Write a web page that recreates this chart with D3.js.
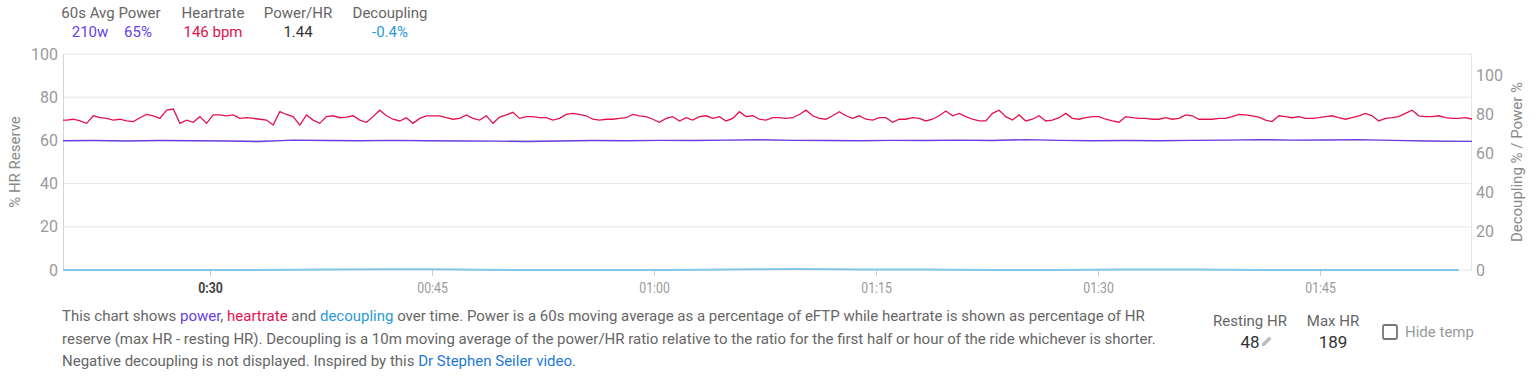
<!DOCTYPE html>
<html>
<head>
<meta charset="utf-8">
<script src="https://cdn.jsdelivr.net/npm/d3@7"></script>
<style>
  body { margin: 0; background: #fff; font-family: Roboto, "Noto Sans", sans-serif; }
  svg text { font-family: Roboto, "Noto Sans", sans-serif; }
</style>
</head>
<body>
<svg id="chart" width="1536" height="382"></svg>
<script>
// Summary numbers shown in the header
var headerLabels = ["60s Avg Power", "Heartrate", "Power/HR", "Decoupling"];
var avgPowerWatts = "210w", avgPowerPct = "65%";
var avgHeartrate = "146 bpm", powerPerHr = "1.44", decouplingPct = "-0.4%";
var restingHr = 48, maxHr = 189;

// Time axis (seconds into ride)
var xStart = 1204, xEnd = 6916;
var tickSeconds = [1800, 2700, 3600, 4500, 5400, 6300];
var tickLabels = ["0:30", "00:45", "01:00", "01:15", "01:30", "01:45"];

// Heartrate as % of HR reserve, one sample every 27 s from 1192 s
var hrStart = 1192, hrStep = 27;
var hrValues = [
  69.4, 69.4, 69.8, 69.0, 67.9, 71.4, 70.5, 70.2, 69.4, 69.8,
  69.0, 68.7, 70.5, 72.0, 71.4, 70.2, 74.0, 74.5, 67.9, 69.4,
  68.4, 71.0, 67.9, 71.8, 71.8, 71.4, 71.8, 70.2, 70.5, 70.2,
  69.8, 69.4, 67.1, 73.3, 72.0, 71.0, 67.1, 71.8, 69.4, 67.9,
  71.0, 71.4, 70.5, 70.8, 71.4, 69.4, 68.4, 71.0, 74.0, 71.4,
  69.8, 69.0, 70.5, 67.9, 70.2, 71.4, 71.4, 71.4, 70.5, 69.8,
  70.2, 71.8, 70.2, 69.4, 71.4, 67.9, 70.8, 71.8, 73.0, 70.2,
  71.0, 71.0, 70.5, 70.5, 69.4, 70.2, 72.0, 72.5, 72.0, 71.4,
  69.8, 69.4, 69.8, 69.8, 70.2, 70.5, 72.0, 71.4, 71.0, 69.8,
  68.4, 70.2, 71.0, 69.0, 70.5, 69.4, 71.0, 71.4, 70.2, 71.0,
  69.0, 70.2, 73.3, 71.0, 71.4, 69.8, 69.4, 70.5, 70.5, 70.2,
  70.5, 72.0, 74.0, 71.4, 70.2, 69.8, 71.4, 73.3, 71.4, 70.2,
  71.4, 69.8, 69.4, 70.5, 70.5, 68.4, 69.8, 69.8, 70.5, 70.2,
  69.0, 69.8, 71.4, 73.6, 71.4, 72.5, 71.0, 69.8, 69.0, 69.0,
  72.5, 74.0, 71.0, 69.4, 71.8, 69.0, 69.8, 71.4, 69.0, 69.4,
  70.5, 72.5, 70.2, 69.8, 70.5, 71.0, 71.0, 69.8, 69.0, 68.4,
  71.0, 70.5, 70.2, 70.2, 69.8, 69.8, 70.5, 69.8, 70.2, 71.8,
  71.4, 69.8, 69.8, 69.8, 70.2, 70.2, 71.0, 72.0, 71.8, 71.4,
  70.8, 69.4, 68.7, 71.4, 71.0, 70.5, 71.0, 70.2, 70.2, 70.5,
  71.0, 71.4, 70.5, 69.8, 70.5, 71.4, 72.5, 71.4, 69.0, 70.2,
  70.5, 71.0, 72.5, 74.0, 71.4, 71.0, 71.0, 71.4, 70.5, 70.2,
  70.2, 70.5, 69.9
];

// Power as % of eFTP (60s average), one sample every 135 s
var pwrStart = 1192, pwrStep = 135;
var powerValues = [
  66.3, 66.4, 66.2, 66.4, 66.3, 66.2, 65.9, 66.6, 66.4, 66.3,
  66.5, 66.3, 66.2, 66.1, 65.9, 66.2, 66.4, 66.3, 66.5, 66.4,
  66.6, 66.8, 66.5, 66.4, 66.3, 66.5, 66.4, 66.6, 66.4, 66.9,
  66.5, 66.3, 66.4, 66.3, 66.5, 66.6, 66.9, 66.6, 66.7, 66.9,
  66.5, 66.2, 66.0, 65.9
];

// Decoupling % (negative values clamped to 0), one sample every 270 s
var decStart = 1192, decStep = 270;
var decouplingValues = [
  0, 0, 0, 0, 0.3, 0.4, 0.2, 0, 0, 0,
  0.3, 0.5, 0.3, 0.2, 0, 0, 0.2, 0.3, 0, 0,
  0, 0
];

var colPower = "#6a3de0", colHr = "#e3124e", colDecText = "#2b9ad6", colDecLine = "#82c6e8";

var margin = { top: 54, right: 64, bottom: 112, left: 63 },
    width = 1536 - margin.left - margin.right,
    height = 382 - margin.top - margin.bottom;

var svg = d3.select("#chart");

var x = d3.scaleLinear().domain([xStart, xEnd]).range([0, width]);
var yLeft = d3.scaleLinear().domain([0, 100]).range([height, 0]);
var yRight = d3.scaleLinear().domain([0, 110.8]).range([height, 0]);

var g = svg.append("g")
    .attr("transform", "translate(" + margin.left + "," + margin.top + ")");

// Grid lines
g.append("g")
    .selectAll("line")
    .data(yLeft.ticks(5))
    .enter().append("line")
    .attr("x1", 0).attr("x2", width)
    .attr("y1", d => yLeft(d)).attr("y2", d => yLeft(d))
    .attr("stroke", "#e6e6e6");

// Plot border (left/right)
g.append("line").attr("x1", 0.5).attr("x2", 0.5).attr("y1", 0).attr("y2", height).attr("stroke", "#d4d4d4");
g.append("line").attr("x1", width - 0.5).attr("x2", width - 0.5).attr("y1", 0).attr("y2", height).attr("stroke", "#e6e6e6");

// Left axis labels
g.append("g").selectAll("text")
    .data(yLeft.ticks(5))
    .enter().append("text")
    .attr("x", -5).attr("y", d => yLeft(d)).attr("dy", "0.35em")
    .attr("text-anchor", "end")
    .attr("font-size", 16).attr("fill", "#9a9a9a")
    .text(d => d);

// Right axis labels
g.append("g").selectAll("text")
    .data(yRight.ticks(5))
    .enter().append("text")
    .attr("x", width + 4).attr("y", d => yRight(d)).attr("dy", "0.35em")
    .attr("text-anchor", "start")
    .attr("font-size", 16).attr("fill", "#9a9a9a")
    .text(d => d);

// Axis titles
svg.append("text")
    .attr("transform", "translate(20," + (margin.top + height / 2) + ") rotate(-90)")
    .attr("text-anchor", "middle")
    .attr("font-size", 15).attr("fill", "#8a8a8a")
    .text("% HR Reserve");
svg.append("text")
    .attr("transform", "translate(1522," + (margin.top + height / 2) + ") rotate(-90)")
    .attr("text-anchor", "middle")
    .attr("font-size", 15).attr("fill", "#8a8a8a")
    .text("Decoupling % / Power %");

// X axis
var xAxis = d3.axisBottom(x)
    .tickValues(tickSeconds)
    .tickSize(6)
    .tickFormat((d, i) => tickLabels[i]);
var xg = g.append("g")
    .attr("transform", "translate(0," + height + ")")
    .call(xAxis);
xg.select(".domain").remove();
xg.selectAll(".tick line").attr("stroke", "#cfcfcf");
xg.selectAll(".tick text")
    .attr("y", 12)
    .attr("font-size", 15)
    .attr("font-family", "Roboto, sans-serif")
    .attr("fill", (d, i) => i === 0 ? "#444" : "#9a9a9a")
    .attr("font-weight", (d, i) => i === 0 ? "bold" : "normal")
    .attr("transform", "scale(0.82,1)");

// Clip for lines
svg.append("defs").append("clipPath").attr("id", "plotclip")
    .append("rect").attr("x", 0).attr("y", -2).attr("width", width).attr("height", height + 4);

var plot = g.append("g").attr("clip-path", "url(#plotclip)");

var decLine = d3.line()
    .x((d, i) => x(decStart + i * decStep))
    .y(d => yRight(d))
    .curve(d3.curveMonotoneX);
plot.append("path")
    .datum(decouplingValues)
    .attr("fill", "none")
    .attr("stroke", colDecLine)
    .attr("stroke-width", 2)
    .attr("d", decLine);

var pwrLine = d3.line()
    .x((d, i) => x(pwrStart + i * pwrStep))
    .y(d => yRight(d));
plot.append("path")
    .datum(powerValues)
    .attr("fill", "none")
    .attr("stroke", colPower)
    .attr("stroke-width", 1.4)
    .attr("d", pwrLine);

var hrLine = d3.line()
    .x((d, i) => x(hrStart + i * hrStep))
    .y(d => yLeft(d));
plot.append("path")
    .datum(hrValues)
    .attr("fill", "none")
    .attr("stroke", colHr)
    .attr("stroke-width", 1.3)
    .attr("d", hrLine);

// Header stats
var headerX = [111, 213, 298, 390];
svg.append("g").selectAll("text")
    .data(headerLabels)
    .enter().append("text")
    .attr("x", (d, i) => headerX[i]).attr("y", 18)
    .attr("text-anchor", "middle")
    .attr("font-size", 15).attr("fill", "#666")
    .text(d => d);

var headerValues = [
  { x: 90, text: avgPowerWatts, color: colPower },
  { x: 138, text: avgPowerPct, color: colPower },
  { x: 213, text: avgHeartrate, color: colHr },
  { x: 298, text: powerPerHr, color: "#333" },
  { x: 390, text: decouplingPct, color: colDecText }
];
svg.append("g").selectAll("text")
    .data(headerValues)
    .enter().append("text")
    .attr("x", d => d.x).attr("y", 37)
    .attr("text-anchor", "middle")
    .attr("font-size", 15).attr("fill", d => d.color)
    .text(d => d.text);

// Description text
var descLines = [
  [["This chart shows ", "#666"], ["power", colPower], [", ", "#666"], ["heartrate", colHr], [" and ", "#666"], ["decoupling", colDecText],
   [" over time. Power is a 60s moving average as a percentage of eFTP while heartrate is shown as percentage of HR", "#666"]],
  [["reserve (max HR - resting HR). Decoupling is a 10m moving average of the power/HR ratio relative to the ratio for the first half or hour of the ride whichever is shorter.", "#666"]],
  [["Negative decoupling is not displayed. Inspired by this ", "#666"], ["Dr Stephen Seiler video", "#1f7ad6"], [".", "#666"]]
];
var desc = svg.append("g");
descLines.forEach(function(parts, li) {
    var t = desc.append("text")
        .attr("x", 62).attr("y", 321 + li * 22.5)
        .attr("font-size", 15);
    parts.forEach(function(p) {
        t.append("tspan").attr("fill", p[1]).text(p[0]);
    });
});

// Resting / Max HR block
var stats = svg.append("g");
stats.append("text").attr("x", 1250).attr("y", 326).attr("text-anchor", "middle")
    .attr("font-size", 15).attr("fill", "#666").text("Resting HR");
stats.append("text").attr("x", 1250).attr("y", 348).attr("text-anchor", "middle")
    .attr("font-size", 17).attr("fill", "#333").text(restingHr);
stats.append("path")
    .attr("d", "M1262,346 L1262,343.5 L1269,336.5 L1271.5,339 L1264.5,346 Z")
    .attr("fill", "#bdbdbd");
stats.append("text").attr("x", 1333).attr("y", 326).attr("text-anchor", "middle")
    .attr("font-size", 15).attr("fill", "#666").text("Max HR");
stats.append("text").attr("x", 1333).attr("y", 348).attr("text-anchor", "middle")
    .attr("font-size", 17).attr("fill", "#333").text(maxHr);
stats.append("rect").attr("x", 1383).attr("y", 325).attr("width", 14).attr("height", 14)
    .attr("rx", 2).attr("fill", "none").attr("stroke", "#777").attr("stroke-width", 1.8);
stats.append("text").attr("x", 1405).attr("y", 337)
    .attr("font-size", 15).attr("fill", "#9a9a9a").text("Hide temp");
</script>
</body>
</html>
